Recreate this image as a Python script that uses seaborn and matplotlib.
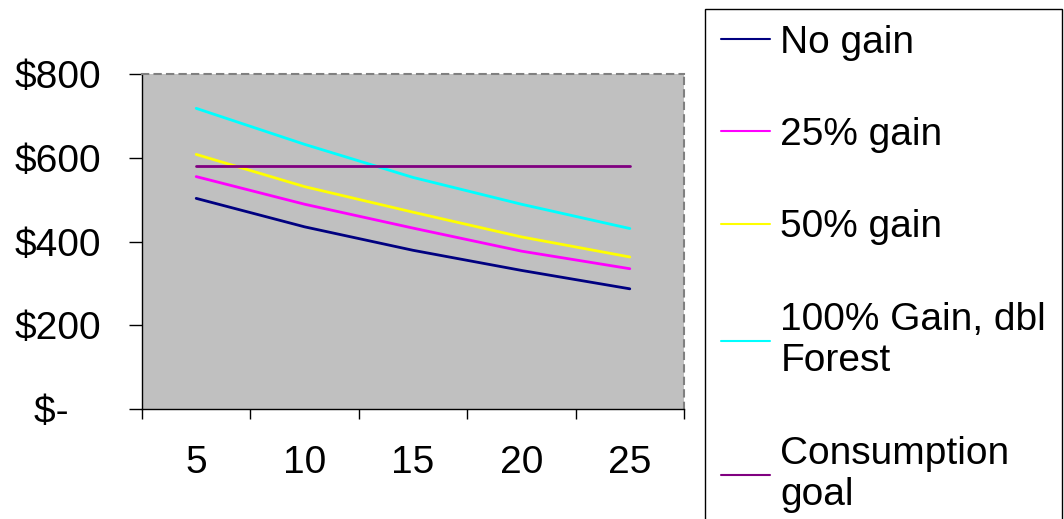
import pandas as pd
import matplotlib.pyplot as plt
import seaborn as sns
from matplotlib.ticker import FixedLocator, NullFormatter, FixedFormatter

# values
years = [5, 10, 15, 20, 25]
no_gain = [503, 435, 379, 331, 287]
gain_25 = [555, 489, 432, 377, 335]
gain_50 = [608, 531, 470, 411, 363]
gain_100 = [718, 632, 553, 489, 431]
goal = [580, 580, 580, 580, 580]

series_names = ['No gain', '25% gain', '50% gain',
                '100% Gain, dbl\nForest', 'Consumption\ngoal']
colors = ['#000080', '#FF00FF', '#FFFF00', '#00FFFF', '#800080']
y_ticks = [0, 200, 400, 600, 800]
y_labels = ['$-   ', '$200', '$400', '$600', '$800']

if __name__ == '__main__':
    sns.set_style("white")
    plt.rcParams['font.family'] = ['Liberation Sans', 'DejaVu Sans']
    plt.rcParams['text.color'] = 'black'
    plt.rcParams['xtick.color'] = 'black'
    plt.rcParams['ytick.color'] = 'black'

    rows = []
    for name, vals in zip(series_names, [no_gain, gain_25, gain_50, gain_100, goal]):
        for yr, v in zip(years, vals):
            rows.append({'Year': yr, 'Value': v, 'Series': name})
    df = pd.DataFrame(rows)

    fig = plt.figure(figsize=(10.64, 5.19), dpi=100)
    ax = fig.add_axes([142 / 1064, 110 / 519, 542 / 1064, 335 / 519])
    ax.set_facecolor('#C0C0C0')

    sns.lineplot(data=df, x='Year', y='Value', hue='Series', hue_order=series_names,
                 palette=dict(zip(series_names, colors)), linewidth=2, ax=ax)

    # category style x axis: ticks between the categories, labels on them
    ax.set_xlim(2.5, 27.5)
    ax.xaxis.set_major_locator(FixedLocator([y - 2.5 for y in years] + [27.5]))
    ax.xaxis.set_major_formatter(NullFormatter())
    ax.xaxis.set_minor_locator(FixedLocator(years))
    ax.xaxis.set_minor_formatter(FixedFormatter([str(y) for y in years]))
    ax.tick_params(axis='x', which='major', direction='out', length=7, width=1, color='black', bottom=True)
    ax.tick_params(axis='x', which='minor', length=0, pad=26, labelsize=28, labelcolor='black')

    ax.set_ylim(0, 800)
    ax.set_yticks(y_ticks)
    ax.set_yticklabels(y_labels)
    ax.tick_params(axis='y', direction='out', length=9.5, width=1, color='black', left=True,
                   pad=20, labelsize=28, labelcolor='black')

    ax.set_xlabel('')
    ax.set_ylabel('')
    ax.grid(False)

    for side in ['left', 'bottom']:
        ax.spines[side].set_color('black')
        ax.spines[side].set_linewidth(1)
    for side in ['top', 'right']:
        ax.spines[side].set_color('#808080')
        ax.spines[side].set_linestyle((0, (3, 3)))
        ax.spines[side].set_linewidth(1.5)

    handles, labels = ax.get_legend_handles_labels()
    ax.get_legend().remove()
    leg = fig.legend(handles, labels, loc='upper left',
                     bbox_to_anchor=(705 / 1064, 1 - 9 / 519),
                     fontsize=28, frameon=True, fancybox=False, framealpha=1,
                     edgecolor='black', handlelength=1.26, handletextpad=0.28,
                     labelspacing=1.45, borderpad=0.4, borderaxespad=0)
    leg.get_frame().set_linewidth(1)
    for h in leg.get_lines():
        h.set_linewidth(1.5)

    plt.savefig('out.png', dpi=100)
